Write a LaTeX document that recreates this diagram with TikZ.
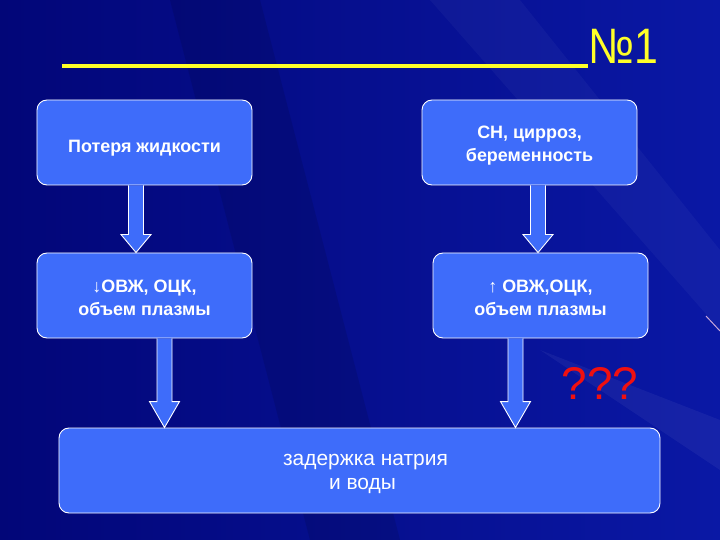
\documentclass[tikz,border=0pt]{standalone}
\usepackage{fontspec}
\setmainfont{Liberation Sans}
\usetikzlibrary{calc}
\definecolor{bgdark}{RGB}{2,6,120}
\definecolor{bglight}{RGB}{10,24,165}
\definecolor{boxblue}{RGB}{62,108,250}
\definecolor{titleyellow}{RGB}{255,255,40}
\definecolor{qred}{RGB}{240,16,16}
\tikzset{
  box/.style={draw=white, line width=0.9bp, fill=boxblue, rounded corners=10bp,
    inner sep=0pt, minimum width=215bp, minimum height=85bp},
  boxtext/.style={inner sep=0pt, align=center, text=white,
    font=\bfseries\fontsize{18}{23}\selectfont},
  arrowst/.style={draw=white, line width=0.9bp, fill=boxblue, line join=miter},
}
\newcommand\blockarr[4]{%
  \path (#1,0 |- #2.south) coordinate (t) (#1,0 |- #3.north) coordinate (b);
  \filldraw[arrowst] ($(t)+(-7.5,0)$) -- ($(b)+(-7.5,-#4)$) -- ($(b)+(-15,-#4)$) -- (b)
     -- ($(b)+(15,-#4)$) -- ($(b)+(7.5,-#4)$) -- ($(t)+(7.5,0)$);
}
\newcommand\smarr[1]{{\fontsize{18}{18}\selectfont\mdseries #1}}
\begin{document}
\begin{tikzpicture}[x=1bp,y=-1bp]
\useasboundingbox (0,0) rectangle (720,540);
% background
\shade[left color=bgdark, right color=bglight] (0,0) rectangle (720,540);
\fill[white, opacity=0.035] (430,0) -- (520,0) -- (720,250) -- (720,330) -- cycle;
\fill[black, opacity=0.1] (170,0) -- (260,0) -- (400,540) -- (310,540) -- cycle;
\fill[white, opacity=0.05] (540,350) -- (720,420) -- (720,470) -- cycle;
\draw[white!80!magenta, line width=1bp, opacity=0.8] (706,316) -- (720,331);
% title
\draw[titleyellow, line width=4bp] (62,66) -- (588,66);
\node[anchor=base west, inner sep=0pt, text=titleyellow, font=\fontsize{50}{52}\selectfont] (ttl) at (588,64) {\scalebox{0.86}[1]{№1}};
% boxes
\node[box] (A) at (144.5,142.5) {};
\node[box] (B) at (529.5,142.5) {};
\node[box] (C) at (144.5,295.5) {};
\node[box] (D) at (540.5,295.5) {};
\node[box, minimum width=601bp] (E) at (359.5,470.5) {};
% box texts
\node[boxtext] (At) at ($(A.center)+(0,6)$) {Потеря жидкости};
\node[boxtext] (Bt) at ($(B.center)+(0,3)$) {СН, цирроз,\\беременность};
\node[boxtext] (Ct) at ($(C.center)+(0,2)$) {\smarr{↓}ОВЖ, ОЦК,\\объем плазмы};
\node[boxtext] (Dt) at ($(D.center)+(0,2)$) {\smarr{↑} ОВЖ,ОЦК,\\объем плазмы};
\node[boxtext, font=\fontsize{21}{24}\selectfont] (Et) at ($(E.center)+(3,3)$) {\hspace*{6bp}задержка натрия\\и воды};
% arrows
\blockarr{136}{A}{C}{18}
\blockarr{538}{B}{D}{18}
\blockarr{164.5}{C}{E}{26}
\blockarr{515.5}{D}{E}{26}
% question marks
\node[text=qred, font=\fontsize{46}{48}\selectfont, inner sep=0pt] (q) at (600,383) {???};
\end{tikzpicture}
\end{document}
